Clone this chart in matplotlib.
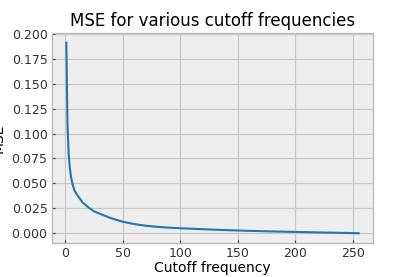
import matplotlib
matplotlib.use("Agg")
import matplotlib.pyplot as plt

# cutoff frequency vs mean squared error
cutoff = [1, 2, 3, 4, 5, 6, 7, 8, 10, 12, 15, 20, 25, 30, 40, 50, 60, 70,
          80, 90, 100, 120, 140, 160, 180, 200, 220, 240, 255]
mse = [0.191, 0.110, 0.080, 0.066, 0.057, 0.051, 0.047, 0.043, 0.039,
       0.036, 0.031, 0.026, 0.022, 0.0196, 0.0150, 0.0115, 0.0092, 0.0075,
       0.0064, 0.0056, 0.0050, 0.0040, 0.0031, 0.0024, 0.0018, 0.0013,
       0.0008, 0.0004, 0.0]

plt.style.use("bmh")
plt.rcParams.update({
    "grid.linestyle": "-",
    "grid.color": "#c8c8c8",
    "grid.linewidth": 0.9,
    "axes.edgecolor": "#bcbcbc",
    "axes.linewidth": 1.0,
    "xtick.major.size": 2.5,
    "ytick.major.size": 2.5,
    "xtick.major.pad": 3,
    "ytick.major.pad": 3,
    "xtick.color": "#333333",
    "ytick.color": "#333333",
})

fig = plt.figure(figsize=(4.15, 2.77), dpi=100)
ax = fig.add_axes([0.1246, 0.1238, 0.775, 0.756])
ax.plot(cutoff, mse, color="#1f77b4", lw=1.5)
ax.set_title("MSE for various cutoff frequencies", fontsize=12, pad=5)
ax.set_xlabel("Cutoff frequency", fontsize=10, labelpad=1)
ax.set_ylabel("MSE", fontsize=10, labelpad=4)
ax.tick_params(labelsize=9)
ax.set_yticks([0.0, 0.025, 0.05, 0.075, 0.1, 0.125, 0.15, 0.175, 0.2])
ax.set_xticks([0, 50, 100, 150, 200, 250])
ax.set_ylim(-0.0095, 0.2005)
ax.set_xlim(-11.7, 267.7)
fig.savefig("out.png", dpi=100)
